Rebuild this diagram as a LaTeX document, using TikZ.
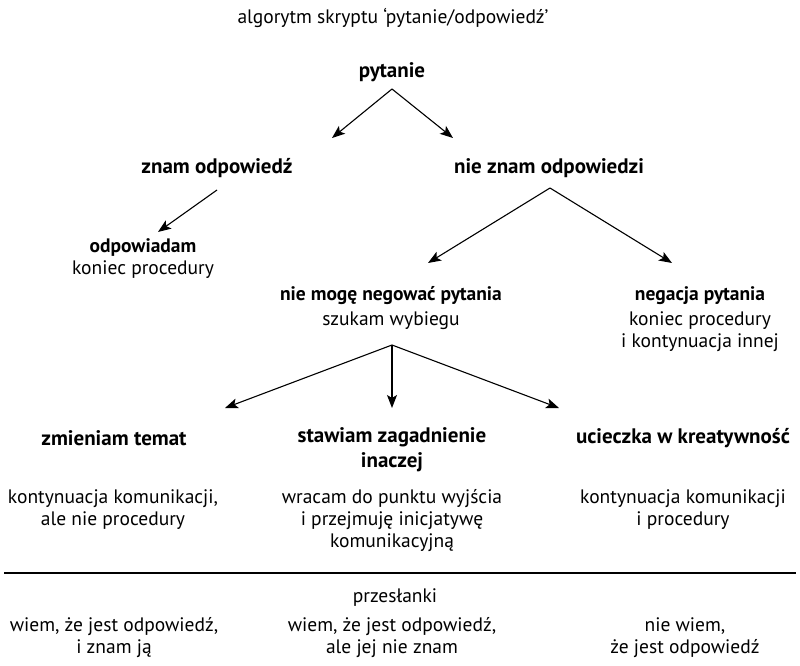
\documentclass[tikz,border=0pt]{standalone}
\usepackage{fontspec}
\setmainfont{PT Sans}
\usetikzlibrary{arrows.meta}
\tikzset{
  txt/.style={align=center, inner sep=0pt, font=\fontsize{19.5}{22}\selectfont},
  hd/.style={align=center, inner sep=0pt, font=\fontsize{21}{25}\selectfont\bfseries},
  arr/.style={-{Stealth[length=13pt,width=10pt,inset=3pt]}, line width=1.1pt},
}

\begin{document}
\begin{tikzpicture}[x=1pt,y=-1pt]
  \useasboundingbox (0,0) rectangle (800,666);

  \node[txt] (title) at (393, 18) {algorytm skryptu ‘pytanie/odpowiedź’};

  \node[hd] (pyt)     at (392, 72)  {pytanie};
  \node[hd] (znam)    at (217, 168) {znam odpowiedź};
  \node[hd] (nieznam) at (549, 168) {nie znam odpowiedzi};

  \node[txt] (odp)     at (143, 259) {\textbf{odpowiadam}\\koniec procedury};
  \node[txt] (niemoge) at (391, 308) {\textbf{nie mogę negować pytania}\\[3pt]szukam wybiegu};
  \node[txt] (negacja) at (700, 319) {\textbf{negacja pytania}\\[3pt]koniec procedury\\i kontynuacja innej};

  \node[hd] (temat)    at (114, 438) {zmieniam temat};
  \node[hd] (inaczej)  at (392, 450) {stawiam zagadnienie\\inaczej};
  \node[hd] (ucieczka) at (683, 438) {ucieczka w kreatywność};

  \node[txt] (temat-d)    at (113, 510) {kontynuacja komunikacji,\\ale nie procedury};
  \node[txt] (inaczej-d)  at (392, 521) {wracam do punktu wyjścia\\i przejmuję inicjatywę\\komunikacyjną};
  \node[txt] (ucieczka-d) at (683, 510) {kontynuacja komunikacji\\i procedury};

  \coordinate (rule-l) at (4, 573);
  \coordinate (rule-r) at (796, 573);
  \draw[line width=2.8pt] (rule-l) -- (rule-r);

  \node[txt] (przes) at (395, 598) {przesłanki};
  \node[txt] (p1) at (114, 638) {wiem, że jest odpowiedź,\\i znam ją};
  \node[txt] (p2) at (392, 638) {wiem, że jest odpowiedź,\\ale jej nie znam};
  \node[txt] (p3) at (685, 638) {nie wiem,\\że jest odpowiedź};

  \coordinate (pyt-o)  at (392, 89);
  \coordinate (pyt-l)  at (332, 138);
  \coordinate (pyt-r)  at (453, 138);
  \coordinate (znam-o) at (217, 190);
  \coordinate (znam-e) at (158, 232);
  \coordinate (nie-o)  at (550, 188);
  \coordinate (nie-l)  at (428, 263);
  \coordinate (nie-r)  at (672, 263);
  \coordinate (wyb-o)  at (392, 345);
  \coordinate (wyb-l)  at (225, 408);
  \coordinate (wyb-m)  at (392, 408);
  \coordinate (wyb-r)  at (559, 408);

  \draw[arr] (pyt-o) -- (pyt-l);
  \draw[arr] (pyt-o) -- (pyt-r);

  \draw[arr] (znam-o) -- (znam-e);

  \draw[arr] (nie-o) -- (nie-l);
  \draw[arr] (nie-o) -- (nie-r);

  \draw[arr] (wyb-o) -- (wyb-l);
  \draw[arr] (wyb-o) -- (wyb-m);
  \draw[arr] (wyb-o) -- (wyb-r);
\end{tikzpicture}
\end{document}
